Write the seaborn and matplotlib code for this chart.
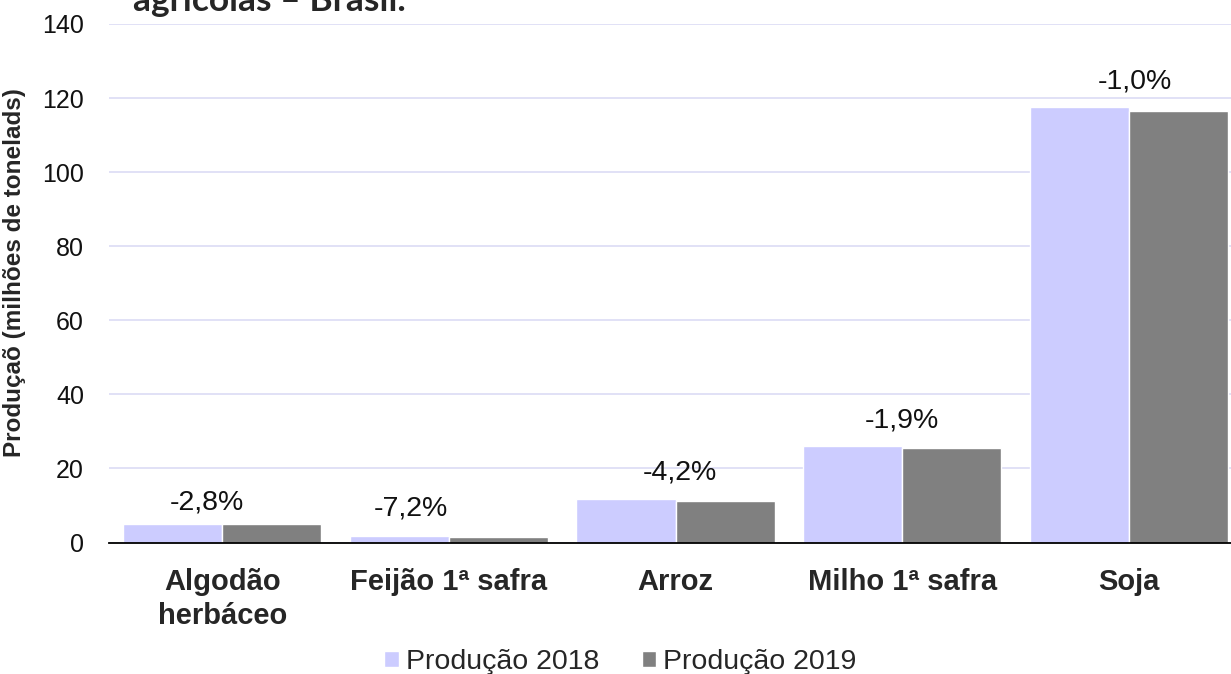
import matplotlib
matplotlib.use('Agg')
import matplotlib.pyplot as plt
import numpy as np
import pandas as pd
import seaborn as sns

## Values (millions of tonnes)
CULTURAS = ['Algodão\nherbáceo', 'Feijão 1ª safra', 'Arroz', 'Milho 1ª safra', 'Soja']
PRODUCAO_2018 = [5.05, 1.70, 11.8, 26.0, 117.7]
PRODUCAO_2019 = [4.91, 1.58, 11.3, 25.5, 116.5]
VARIACAO = ['-2,8%', '-7,2%', '-4,2%', '-1,9%', '-1,0%']
SERIES = ['Produção 2018', 'Produção 2019']
Y_TICKS = [0, 20, 40, 60, 80, 100, 120, 140]

## Layout of the percentage labels (hand placed in the original)
LABEL_DX = [-0.066, -0.17, 0.02, 0.0, 0.026]
LABEL_DY_PX = [21, 28, 26, 26, 25]

COLORS = ['#CCCCFF', '#808080']
GRID_COLOR = '#DCDCF5'

df = pd.DataFrame({
    'cultura': CULTURAS * 2,
    'valor': PRODUCAO_2018 + PRODUCAO_2019,
    'serie': [SERIES[0]] * len(CULTURAS) + [SERIES[1]] * len(CULTURAS),
})

sns.set_theme(style='white')
plt.rcParams['font.family'] = ['Liberation Sans', 'DejaVu Sans']

fig = plt.figure(figsize=(12.31, 6.74), dpi=100)
ax = fig.add_axes([109 / 1231, 1 - 542.5 / 674, 1133 / 1231, 518.5 / 674])

sns.barplot(data=df, x='cultura', y='valor', hue='serie', order=CULTURAS,
            hue_order=SERIES, palette=COLORS, width=0.874, gap=0,
            saturation=1, ax=ax, legend=True)

ax.set_ylim(0, 140)
ax.set_xlim(-0.5, len(CULTURAS) - 0.5)
ax.set_yticks(Y_TICKS)
ax.yaxis.grid(True, color=GRID_COLOR, linewidth=1.2)
ax.set_axisbelow(True)
for side in ['left', 'right', 'top']:
    ax.spines[side].set_visible(False)
ax.spines['bottom'].set_color('black')
ax.spines['bottom'].set_linewidth(1.3)
ax.tick_params(axis='y', length=0, pad=18, labelsize=18, labelcolor='#111111')
ax.tick_params(axis='x', length=0, pad=18, labelsize=21)
for lab in ax.get_xticklabels():
    lab.set_fontweight('bold')
    lab.set_linespacing(1.3)

ax.set_xlabel('')
ax.set_ylabel('Produçaõ (milhões de tonelads)', fontsize=17.5, fontweight='bold')
ax.yaxis.set_label_coords(-0.073, 0.52)

## Percentage change labels above each pair of bars
for i, txt in enumerate(VARIACAO):
    top = max(PRODUCAO_2018[i], PRODUCAO_2019[i])
    ax.annotate(txt, xy=(i + LABEL_DX[i], top), xytext=(0, LABEL_DY_PX[i] * 0.72),
                textcoords='offset points', ha='center', va='center', fontsize=20.5,
                color='#111111')

handles, labels = ax.get_legend_handles_labels()
ax.get_legend().remove()
fig.legend(handles, labels, loc='center', bbox_to_anchor=(0.504, 0.018), ncol=2,
           frameon=False, fontsize=20.5, handlelength=0.5, handleheight=0.5,
           handletextpad=0.25, columnspacing=1.5)

## Second line of the title, cut off at the top in the reference
fig.text(133 / 1231, 1 - 11 / 674, 'agrícolas – Brasil.', fontsize=25.5, fontweight='bold',
         family=['Lato', 'DejaVu Sans'], va='baseline', ha='left')

fig.savefig('out.png', dpi=100)
